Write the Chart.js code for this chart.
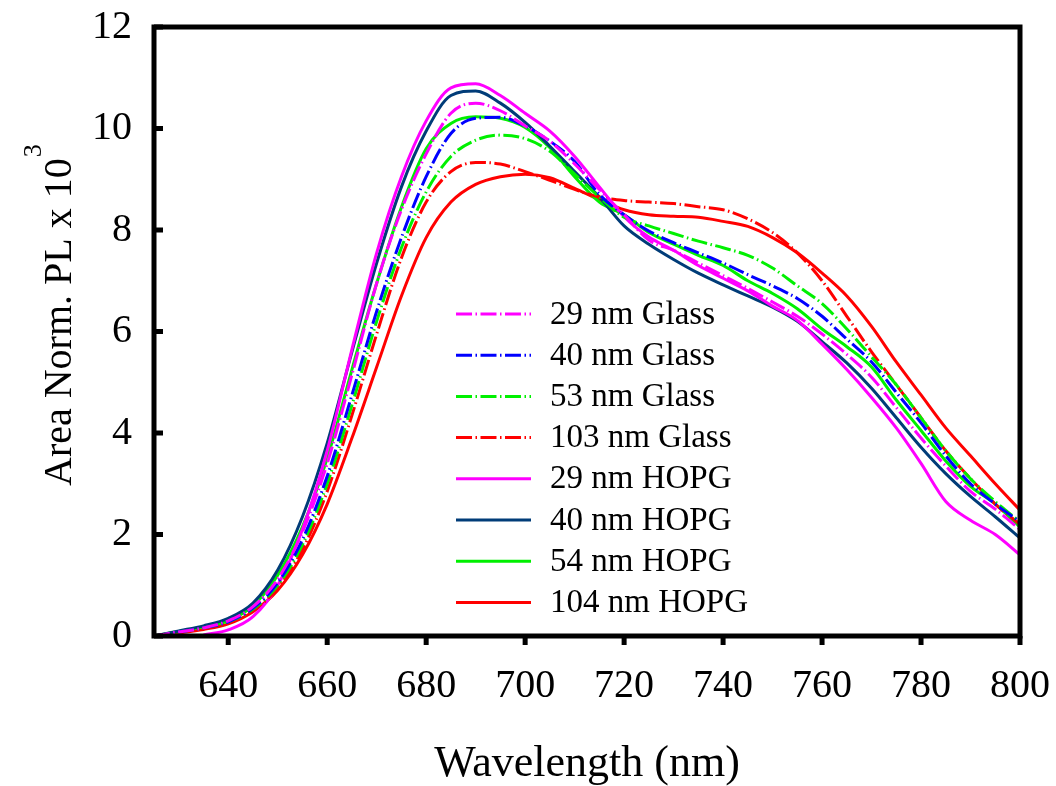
<!DOCTYPE html>
<html lang="en">

<head>
    <meta charset="UTF-8">
    <title>Area Normalized PL Spectra</title>
    <script src="https://cdn.jsdelivr.net/npm/chart.js"></script>
    <style>
        html, body { margin: 0; padding: 0; background: #fff; }
        #wrap { width: 1056px; height: 786px; }
    </style>
</head>

<body>
    <div id="wrap"><canvas id="plChart"></canvas></div>

    <script>
        // Wavelength grid (nm) and area-normalised PL (x 10^3) for each sample
        const wavelength = [625, 630, 635, 640, 645, 650, 655, 660, 665, 670, 675, 680, 685, 690, 695, 700, 705, 710,
            715, 720, 725, 730, 735, 740, 745, 750, 755, 760, 765, 770, 775, 780, 785, 790, 795, 800];

        const glass29 = [0, 0.08, 0.16, 0.3, 0.58, 1.12, 2.05, 3.4, 5.15, 6.95, 8.4, 9.5, 10.3, 10.5, 10.35, 10.05, 9.75, 9.3,
            8.8, 8.3, 7.8, 7.6, 7.35, 7.1, 6.85, 6.58, 6.3, 5.95, 5.55, 5.1, 4.5, 3.9, 3.35, 2.85, 2.5, 2.1];
        const glass40 = [0, 0.08, 0.16, 0.28, 0.55, 1.05, 1.9, 3.15, 4.75, 6.4, 7.85, 9.05, 9.9, 10.2, 10.22, 10.05, 9.75, 9.35,
            8.7, 8.3, 7.98, 7.75, 7.55, 7.35, 7.12, 6.9, 6.65, 6.3, 5.85, 5.4, 4.8, 4.2, 3.55, 3.0, 2.6, 2.25];
        const glass53 = [0, 0.08, 0.16, 0.28, 0.53, 1.0, 1.8, 3.0, 4.55, 6.2, 7.65, 8.75, 9.45, 9.77, 9.87, 9.8, 9.55, 9.1,
            8.65, 8.25, 8.08, 7.93, 7.78, 7.65, 7.5, 7.25, 6.9, 6.55, 6.05, 5.5, 4.95, 4.3, 3.65, 3.1, 2.65, 2.25];
        const glass103 = [0, 0.07, 0.15, 0.26, 0.5, 0.95, 1.7, 2.85, 4.35, 5.95, 7.45, 8.55, 9.15, 9.33, 9.3, 9.15, 8.98, 8.8,
            8.65, 8.58, 8.55, 8.52, 8.46, 8.4, 8.22, 7.95, 7.55, 7.0, 6.3, 5.6, 4.95, 4.3, 3.65, 3.1, 2.6, 2.2];
        const hopg29 = [null, null, 0.02, 0.12, 0.38, 1.0, 2.1, 3.65, 5.65, 7.55, 9.05, 10.15, 10.8, 10.88, 10.65, 10.3, 9.95, 9.45,
            8.85, 8.26, 7.86, 7.6, 7.3, 7.05, 6.8, 6.5, 6.22, 5.75, 5.25, 4.7, 4.1, 3.4, 2.65, 2.28, 2.0, 1.6];
        const hopg40 = [0, 0.1, 0.2, 0.35, 0.65, 1.3, 2.35, 3.8, 5.6, 7.35, 8.85, 9.95, 10.65, 10.74, 10.5, 10.12, 9.65, 9.15,
            8.65, 8.08, 7.72, 7.42, 7.15, 6.92, 6.7, 6.48, 6.2, 5.8, 5.38, 4.88, 4.3, 3.72, 3.2, 2.75, 2.35, 1.93];
        const hopg54 = [0, 0.09, 0.18, 0.3, 0.6, 1.2, 2.15, 3.5, 5.25, 6.95, 8.45, 9.6, 10.1, 10.23, 10.2, 10.02, 9.62, 9.05,
            8.55, 8.3, 7.95, 7.72, 7.5, 7.3, 7.0, 6.75, 6.45, 6.05, 5.7, 5.3, 4.65, 4.05, 3.45, 2.95, 2.6, 2.15];
        const hopg104 = [0, 0.06, 0.13, 0.24, 0.48, 0.9, 1.6, 2.6, 3.9, 5.3, 6.7, 7.85, 8.55, 8.9, 9.05, 9.1, 9.03, 8.82,
            8.6, 8.4, 8.3, 8.27, 8.25, 8.17, 8.07, 7.85, 7.55, 7.15, 6.7, 6.1, 5.4, 4.75, 4.1, 3.55, 3.0, 2.48];

        const xTicks = [640, 660, 680, 700, 720, 740, 760, 780, 800];
        const yTicks = [0, 2, 4, 6, 8, 10, 12];

        const serif = '"Liberation Serif", "Times New Roman", serif';
        const glassDash = [16, 3.5, 1.5, 3.5];

        const series = [
            { label: '29 nm Glass', values: glass29, color: '#ff00ff', dash: glassDash },
            { label: '40 nm Glass', values: glass40, color: '#0000ff', dash: glassDash },
            { label: '53 nm Glass', values: glass53, color: '#00f000', dash: glassDash },
            { label: '103 nm Glass', values: glass103, color: '#ff0000', dash: glassDash },
            { label: '29 nm HOPG', values: hopg29, color: '#ff00ff', dash: [] },
            { label: '40 nm HOPG', values: hopg40, color: '#003c78', dash: [] },
            { label: '54 nm HOPG', values: hopg54, color: '#00f000', dash: [] },
            { label: '104 nm HOPG', values: hopg104, color: '#ff0000', dash: [] }
        ];

        // Scales report no label overflow so the layout padding alone places the plot box
        function fixBox(size) {
            return s => {
                if (s.isHorizontal()) s.height = size; else s.width = size;
                s.paddingTop = s.paddingBottom = s.paddingLeft = s.paddingRight = 0;
            };
        }

        // Black box round the plot, ticks inward on y and outward on x
        const framePlugin = {
            id: 'frame',
            afterDatasetsDraw(chart) {
                const { ctx, chartArea: a, scales: { x, y } } = chart;
                ctx.save();
                ctx.strokeStyle = '#000';
                ctx.lineWidth = 5;
                ctx.strokeRect(a.left, a.top, a.right - a.left, a.bottom - a.top);
                ctx.beginPath();
                yTicks.forEach(v => {
                    const py = y.getPixelForValue(v);
                    ctx.moveTo(a.left, py);
                    ctx.lineTo(a.left + 9, py);
                });
                xTicks.forEach(v => {
                    const px = x.getPixelForValue(v);
                    ctx.moveTo(px, a.bottom);
                    ctx.lineTo(px, a.bottom + 9);
                });
                ctx.stroke();
                ctx.restore();
            }
        };

        // Legend sitting inside the plot area
        const insetLegend = {
            id: 'insetLegend',
            afterDatasetsDraw(chart) {
                const ctx = chart.ctx;
                const x0 = 456, x1 = 531, textX = 550, top = 314, step = 41.2;
                ctx.save();
                ctx.font = '33px ' + serif;
                ctx.textBaseline = 'middle';
                ctx.textAlign = 'left';
                chart.data.datasets.forEach((ds, i) => {
                    const cy = top + i * step;
                    ctx.strokeStyle = ds.borderColor;
                    ctx.lineWidth = 3;
                    ctx.setLineDash(ds.borderDash);
                    ctx.beginPath();
                    ctx.moveTo(x0, cy);
                    ctx.lineTo(x1, cy);
                    ctx.stroke();
                    ctx.setLineDash([]);
                    ctx.fillStyle = '#000';
                    ctx.fillText(ds.label, textX, cy + 1);
                });
                ctx.restore();
            }
        };

        // Rotated y title with a real superscript on the exponent
        const yTitle = {
            id: 'yTitle',
            afterDraw(chart) {
                const ctx = chart.ctx;
                const main = 'Area Norm. PL x 10';
                ctx.save();
                ctx.translate(71, 486);
                ctx.rotate(-Math.PI / 2);
                ctx.fillStyle = '#000';
                ctx.textBaseline = 'alphabetic';
                ctx.textAlign = 'left';
                ctx.font = '40px ' + serif;
                ctx.fillText(main, 0, 0);
                const w = ctx.measureText(main).width;
                ctx.font = '26px ' + serif;
                ctx.fillText('3', w + 1, -30);
                ctx.restore();
            }
        };

        new Chart(document.getElementById('plChart'), {
            type: 'line',
            data: {
                datasets: series.map(s => ({
                    label: s.label,
                    data: wavelength.map((w, i) => ({ x: w, y: s.values[i] })),
                    borderColor: s.color,
                    borderWidth: 3,
                    borderDash: s.dash,
                    pointRadius: 0,
                    fill: false,
                    cubicInterpolationMode: 'monotone'
                }))
            },
            options: {
                responsive: true,
                maintainAspectRatio: false,
                animation: false,
                layout: { padding: { left: 0, top: 27, right: 36, bottom: 0 } },
                plugins: {
                    legend: { display: false },
                    tooltip: { enabled: false }
                },
                scales: {
                    x: {
                        type: 'linear',
                        min: 625,
                        max: 800,
                        afterBuildTicks: s => { s.ticks = xTicks.map(v => ({ value: v })); },
                        afterFit: fixBox(150),
                        grid: { display: false, drawTicks: false },
                        border: { display: false },
                        ticks: { font: { family: serif, size: 40 }, color: '#000', padding: 26, maxRotation: 0 },
                        title: {
                            display: true,
                            text: 'Wavelength (nm)',
                            color: '#000',
                            font: { family: serif, size: 44, lineHeight: 1 },
                            padding: { top: 0, bottom: 0 }
                        }
                    },
                    y: {
                        min: 0,
                        max: 12,
                        afterBuildTicks: s => { s.ticks = yTicks.map(v => ({ value: v })); },
                        afterFit: fixBox(154),
                        grid: { display: false, drawTicks: false },
                        border: { display: false },
                        ticks: { font: { family: serif, size: 40 }, color: '#000', padding: 22 }
                    }
                }
            },
            plugins: [framePlugin, insetLegend, yTitle]
        });
    </script>
</body>

</html>
